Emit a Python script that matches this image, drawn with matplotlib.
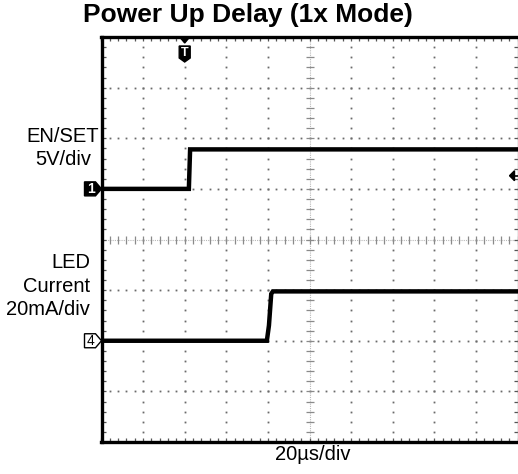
import matplotlib
matplotlib.use("Agg")
import matplotlib.pyplot as plt
from matplotlib.patches import Polygon
import numpy as np

plt.rcParams['font.family'] = ['Liberation Sans', 'DejaVu Sans']

# ---- data ----
title = "Power Up Delay (1x Mode)"
time_label = "20\u00b5s/div"
us_per_div = 20.0
t_min, t_max = -40.0, 160.0          # µs, trigger at 0
n_vdiv = 8

# EN/SET channel (5V/div, ground at +1 div)
en_label = ["EN/SET", "5V/div"]
en_scale = 5.0
en_offset = 1.0
en_t = [-40.0, 2.0, 2.6, 160.0]
en_v = [0.0, 0.0, 3.9, 3.9]

# LED current channel (20mA/div, ground at -2 div)
led_label = ["LED", "Current", "20mA/div"]
led_scale = 20.0
led_offset = -2.0
led_t = [-40.0, 39.5, 40.5, 41.6, 42.4, 160.0]
led_i = [0.0, 0.0, 6.0, 18.5, 19.5, 19.5]

trig_level = 1.3   # V on EN channel

# ---- figure ----
W, H = 518, 474
fig = plt.figure(figsize=(W/100, H/100), dpi=100)
L, R, T, B = 101.5, 517.5, 37.0, 442.0
ax = fig.add_axes([L/W, 1 - B/H, (R-L)/W, (B-T)/H])
ax.set_xlim(t_min, t_max)
ax.set_ylim(-n_vdiv/2, n_vdiv/2)

# grid (dotted at minor steps)
xmaj = np.arange(t_min, t_max + 1e-6, us_per_div)
ymaj = np.arange(-n_vdiv/2, n_vdiv/2 + 1e-6, 1.0)
xmin_ = np.arange(t_min, t_max + 1e-6, us_per_div/5)
ymin_ = np.arange(-n_vdiv/2, n_vdiv/2 + 1e-6, 0.2)
xc = (t_min + t_max)/2
dotc = '#6a6a6a'
for xv in xmaj[1:-1]:
    if abs(xv - xc) < 1e-6:
        continue
    ax.plot(np.full_like(ymin_, xv), ymin_, ls='none', marker='s', ms=1.3, mew=0, color=dotc, zorder=1)
for yv in ymaj[1:-1]:
    if abs(yv) < 1e-6:
        continue
    ax.plot(xmin_, np.full_like(xmin_, yv), ls='none', marker='s', ms=1.3, mew=0, color=dotc, zorder=1)

# centre cross with ticks
ax.plot([xc, xc], [-4, 4], color='#b8b8b8', lw=0.8, ls=(0, (1, 1)), zorder=1)
ax.plot([t_min, t_max], [0, 0], color='#b8b8b8', lw=0.8, ls=(0, (1, 1)), zorder=1)
ax.plot(np.full_like(ymin_, xc), ymin_, ls='none', marker='_', ms=6, mew=0.9, color='#8a8a8a', zorder=1)
ax.plot(xmin_, np.zeros_like(xmin_), ls='none', marker='|', ms=6, mew=0.9, color='#8a8a8a', zorder=1)

# frame ticks
ax.set_xticks(xmaj)
ax.set_yticks(ymaj)
ax.set_xticks(xmin_, minor=True)
ax.set_yticks(ymin_, minor=True)
ax.tick_params(which='both', direction='in', length=3, width=0.9, color='#555555',
               top=True, right=True, labelbottom=False, labelleft=False)
for s in ['left', 'top', 'bottom']:
    ax.spines[s].set_linewidth(2.4)
    ax.spines[s].set_color('black')
ax.spines['right'].set_linewidth(1.0)
ax.spines['right'].set_color('#999999')

# traces
en_y = en_offset + np.array(en_v)/en_scale
led_y = led_offset + np.array(led_i)/led_scale
ax.plot(en_t, en_y, color='black', lw=3.2, solid_joinstyle='miter', zorder=3)
ax.plot(led_t, led_y, color='black', lw=3.2, solid_joinstyle='miter', zorder=3)

# channel ground markers (display coords offsets)
def chan_marker(y, text, filled):
    x0 = t_min
    pts_px = np.array([[-17, -7], [-6, -7], [0, 0], [-6, 7], [-17, 7]])
    disp0 = ax.transData.transform((x0, y))
    poly = [fig.transFigure.inverted().transform(disp0 + p) for p in pts_px]
    fig.patches.append(Polygon(poly, closed=True, transform=fig.transFigure,
                               facecolor='black' if filled else 'white',
                               edgecolor='black', lw=1.0, zorder=5))
    c = fig.transFigure.inverted().transform(disp0 + np.array([-10.5, 0]))
    fig.text(c[0], c[1], text, ha='center', va='center', fontsize=10,
             color='white' if filled else 'black', fontweight='bold' if filled else 'normal', zorder=6)

chan_marker(en_offset, "1", True)
chan_marker(led_offset, "4", False)

# trigger position marker at top
disp = ax.transData.transform((0.0, 4.0))
tri = [fig.transFigure.inverted().transform(disp + p) for p in np.array([[-5, 0], [5, 0], [0, -6]])]
fig.patches.append(Polygon(tri, closed=True, transform=fig.transFigure, facecolor='black', edgecolor='black', zorder=5))
badge = np.array([[-5.5, -9], [5.5, -9], [5.5, -21], [0, -25], [-5.5, -21]])
bp = [fig.transFigure.inverted().transform(disp + p) for p in badge]
fig.patches.append(Polygon(bp, closed=True, transform=fig.transFigure, facecolor='black', edgecolor='black', zorder=5))
c = fig.transFigure.inverted().transform(disp + np.array([0, -16]))
fig.text(c[0], c[1], "T", ha='center', va='center', fontsize=9, color='white', fontweight='bold', zorder=6)

# trigger level marker at right
disp = ax.transData.transform((t_max, en_offset + trig_level/en_scale))
arr = np.array([[-8, 0], [-3, 5], [-3, -5]])
ap = [fig.transFigure.inverted().transform(disp + p) for p in arr]
fig.patches.append(Polygon(ap, closed=True, transform=fig.transFigure, facecolor='black', edgecolor='black', zorder=5))
l0 = fig.transFigure.inverted().transform(disp + np.array([-4, 0]))
l1 = fig.transFigure.inverted().transform(disp + np.array([0, 0]))
fig.add_artist(plt.Line2D([l0[0], l1[0]], [l0[1], l1[1]], color='black', lw=1.2, transform=fig.transFigure))

# texts
fig.text(248/W, 1 - 15/H, title, ha='center', va='center', fontsize=19, fontweight='bold')
fig.text(63/W, 1 - 148/H, "\n".join(en_label), ha='center', va='center', fontsize=14.5, linespacing=1.3)
fig.text(90/W, 1 - 286/H, "\n".join(led_label), ha='right', va='center', fontsize=14.5, linespacing=1.28)
fig.text(313/W, 1 - 455/H, time_label, ha='center', va='center', fontsize=14.5)

fig.savefig("out.png", dpi=100)
